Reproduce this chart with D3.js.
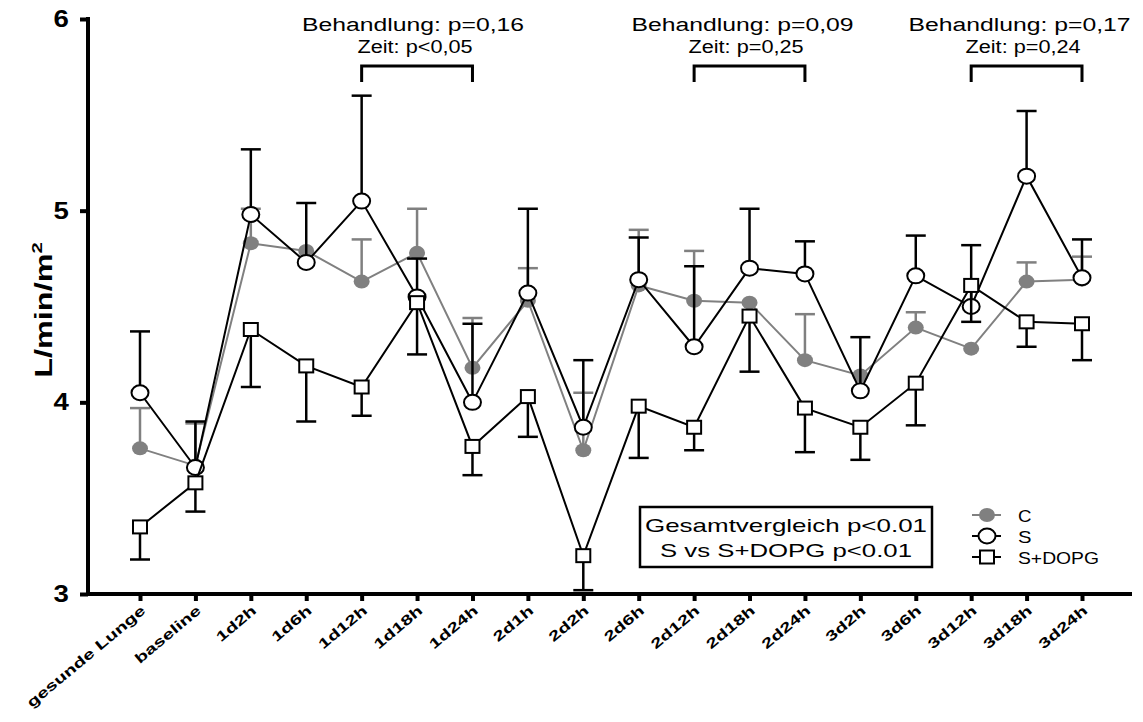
<!DOCTYPE html>
<html><head><meta charset="utf-8">
<script src="https://cdn.jsdelivr.net/npm/d3@7"></script>
<style>body{margin:0;background:#fff}text{font-family:"Liberation Sans",Arial,sans-serif}</style>
</head><body><svg id="c" width="1143" height="722"></svg>
<script>
const categories = ["gesunde Lunge","baseline","1d2h","1d6h","1d12h","1d18h","1d24h","2d1h","2d2h","2d6h","2d12h","2d18h","2d24h","3d2h","3d6h","3d12h","3d18h","3d24h"];
const cMean = [3.76,3.67,4.83,4.79,4.63,4.78,4.18,4.53,3.75,4.61,4.53,4.52,4.22,4.14,4.39,4.28,4.63,4.64];
const cErr  = [3.97,3.89,5.01,4.79,4.85,5.01,4.44,4.70,4.05,4.90,4.79,4.52,4.46,4.14,4.47,4.28,4.73,4.76];
const sMean = [4.05,3.66,4.98,4.73,5.05,4.55,4.00,4.57,3.87,4.64,4.29,4.70,4.67,4.06,4.66,4.50,5.18,4.65];
const sErr  = [4.37,3.90,5.32,5.04,5.60,4.75,4.41,5.01,4.22,4.86,4.71,5.01,4.84,4.34,4.87,4.82,5.52,4.85];
const dMean = [3.35,3.58,4.38,4.19,4.08,4.52,3.77,4.03,3.20,3.98,3.87,4.45,3.97,3.87,4.10,4.61,4.42,4.41];
const dErr  = [3.18,3.43,4.08,3.90,3.93,4.25,3.62,3.82,3.02,3.71,3.75,4.16,3.74,3.70,3.88,4.42,4.29,4.22];
const yTicks = [3,4,5,6];
const brackets = [
  {from:4,to:6,l1:"Behandlung: p=0,16",l2:"Zeit: p<0,05"},
  {from:10,to:12,l1:"Behandlung: p=0,09",l2:"Zeit: p=0,25"},
  {from:15,to:17,l1:"Behandlung: p=0,17",l2:"Zeit: p=0,24"}];

const svg = d3.select("#c");
const x = d3.scaleLinear().domain([0,17]).range([140,1082]);
const y = d3.scaleLinear().domain([3,6]).range([594,19]);
const gray = "#808080";

// stretched text helper (reference glyphs are wide)
function wtext(xp, yp, str, size, len, anchor){
  return svg.append("text").attr("x",xp).attr("y",yp).attr("font-size",size)
    .attr("text-anchor",anchor||"middle").attr("textLength",len).attr("lengthAdjust","spacingAndGlyphs").text(str);
}

// axes
const ya = svg.append("g").attr("transform","translate(88,0)")
  .call(d3.axisLeft(y).tickValues(yTicks).tickSize(8).tickFormat(d3.format("d")));
ya.select(".domain").attr("stroke-width",4).attr("d","M0,594V17");
ya.selectAll(".tick line").attr("stroke-width",4);
ya.selectAll("text").attr("font-size",23).attr("font-weight","bold").attr("x",-12)
  .attr("transform","scale(1.2,1)").attr("dx",-4);

const xa = svg.append("g").attr("transform","translate(0,594)")
  .call(d3.axisBottom(x).tickValues(d3.range(18)).tickSize(7).tickFormat(i=>categories[i]));
xa.select(".domain").attr("stroke-width",4).attr("d","M86,0H1132");
xa.selectAll(".tick line").attr("stroke-width",4);
xa.selectAll("text").attr("font-size",14).attr("font-weight","bold")
  .attr("text-anchor","end").attr("dy",0).attr("y",0)
  .attr("transform","translate(6,18) rotate(-40) scale(1.45,1)");

svg.append("text").attr("transform","translate(52,310) rotate(-90) scale(1.35,1)")
  .attr("text-anchor","middle").attr("font-size",24).attr("font-weight","bold")
  .html('L/min/m<tspan dy="-10" font-size="15">2</tspan>');

function series(mean, err, color, sym){
  const g = svg.append("g");
  mean.forEach((m,i)=>{
    g.append("line").attr("x1",x(i)).attr("x2",x(i)).attr("y1",y(m)).attr("y2",y(err[i]))
      .attr("stroke",color).attr("stroke-width",2.5);
    if (err[i]!==m) g.append("line").attr("x1",x(i)-10).attr("x2",x(i)+10).attr("y1",y(err[i])).attr("y2",y(err[i]))
      .attr("stroke",color).attr("stroke-width",2.5);
  });
  g.append("path").datum(mean).attr("fill","none").attr("stroke",color).attr("stroke-width",2)
    .attr("d",d3.line().x((d,i)=>x(i)).y(d=>y(d)));
  mean.forEach((m,i)=>drawSym(g,sym,x(i),y(m),color));
}
function drawSym(g,sym,cx,cy,color){
  if(sym==="dot") g.append("ellipse").attr("cx",cx).attr("cy",cy).attr("rx",8).attr("ry",7).attr("fill",color);
  else if(sym==="circle") g.append("ellipse").attr("cx",cx).attr("cy",cy).attr("rx",8.5).attr("ry",7.5)
    .attr("fill","#fff").attr("stroke","#000").attr("stroke-width",2);
  else g.append("rect").attr("x",cx-7).attr("y",cy-6.5).attr("width",14).attr("height",13)
    .attr("fill","#fff").attr("stroke","#000").attr("stroke-width",2);
}
series(cMean,cErr,gray,"dot");
series(sMean,sErr,"#000","circle");
series(dMean,dErr,"#000","square");

// brackets
brackets.forEach(b=>{
  const x1=x(b.from), x2=x(b.to), xm=(x1+x2)/2;
  const shift = b.from===4 ? -4 : -7;
  svg.append("path").attr("d",`M${x1},82V66H${x2}V82`).attr("fill","none").attr("stroke","#000").attr("stroke-width",3);
  wtext(xm+shift, 31, b.l1, 18, 222);
  wtext(xm+shift/2, 53, b.l2, 18, b.l2.length*9.6);
});

// box
svg.append("rect").attr("x",640).attr("y",507).attr("width",292).attr("height",60)
  .attr("fill","#fff").attr("stroke","#000").attr("stroke-width",2.5);
wtext(786, 532, "Gesamtvergleich p<0.01", 19, 282);
wtext(786, 557, "S vs S+DOPG p<0.01", 19, 252);

// legend
const leg = [["C",gray,"dot"],["S","#000","circle"],["S+DOPG","#000","square"]];
leg.forEach((l,i)=>{
  const ly=515+i*21;
  svg.append("line").attr("x1",972).attr("x2",1001).attr("y1",ly).attr("y2",ly).attr("stroke",l[1]).attr("stroke-width",2);
  drawSym(svg,l[2],987,ly,l[1]);
  wtext(1018, ly+7, l[0], 17, l[0].length*13.5, "start");
});
</script></body></html>
